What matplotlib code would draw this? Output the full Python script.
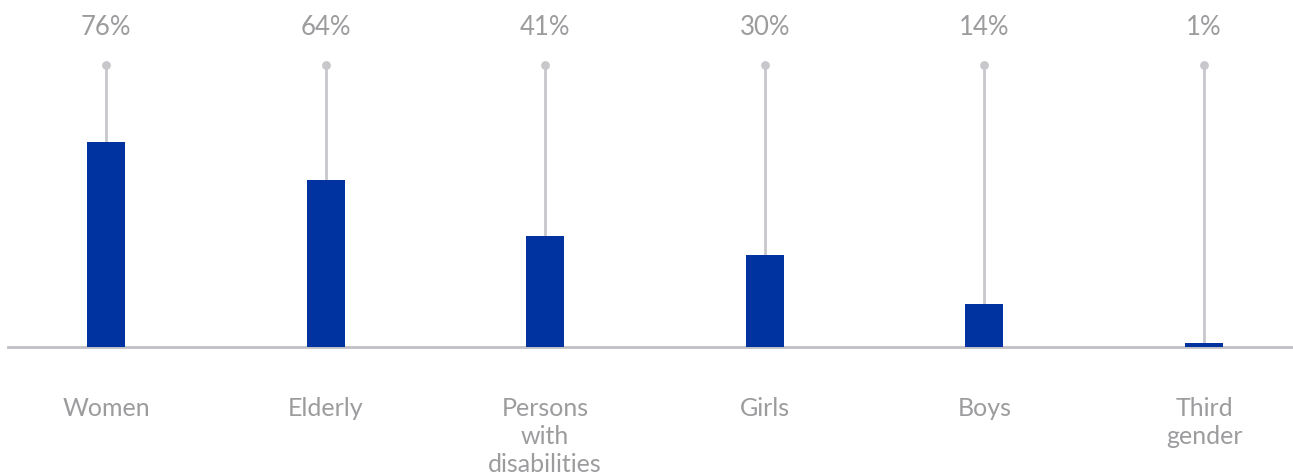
import numpy as np
import matplotlib.pyplot as plt

categories = ["Women", "Elderly", "Persons\nwith\ndisabilities", "Girls", "Boys", "Third\ngender"]
bar_values = [76, 62, 41, 34, 16, 1.5]   # bar heights as drawn
value_labels = ["76%", "64%", "41%", "30%", "14%", "1%"]
stem_top = 104.5
label_y = 118.5

blue = "#0033A0"
grey_line = "#C8C8CC"
grey_text = "#9C9C9F"

plt.rcParams['font.family'] = ['Lato', 'DejaVu Sans']

fig = plt.figure(figsize=(12.93, 4.76), dpi=100)
ax = fig.add_axes([8 / 1293, 129 / 476, 1285 / 1293, 347 / 476])

x = np.arange(len(categories))

# stems with dots on top
ax.vlines(x, bar_values, stem_top, color=grey_line, lw=2, zorder=1)
ax.scatter(x, [stem_top] * len(x), s=40, color=grey_line, zorder=2, linewidths=0)

ax.bar(x, bar_values, width=0.173, color=blue, zorder=3)

for xi, lab in zip(x, value_labels):
    ax.text(xi, label_y, lab, ha="center", va="center", fontsize=18.5, color=grey_text)

ax.set_xlim(-0.446, 5.405)
ax.set_ylim(0, 128.5)
ax.set_yticks([])
ax.set_xticks(x)
ax.set_xticklabels(categories, fontsize=18, color=grey_text, linespacing=1.25)
ax.tick_params(axis="x", length=0, pad=36)

for s in ["top", "right", "left"]:
    ax.spines[s].set_visible(False)
ax.spines["bottom"].set_color("#C0C0C4")
ax.spines["bottom"].set_linewidth(2)

fig.savefig("out.png", dpi=100)
